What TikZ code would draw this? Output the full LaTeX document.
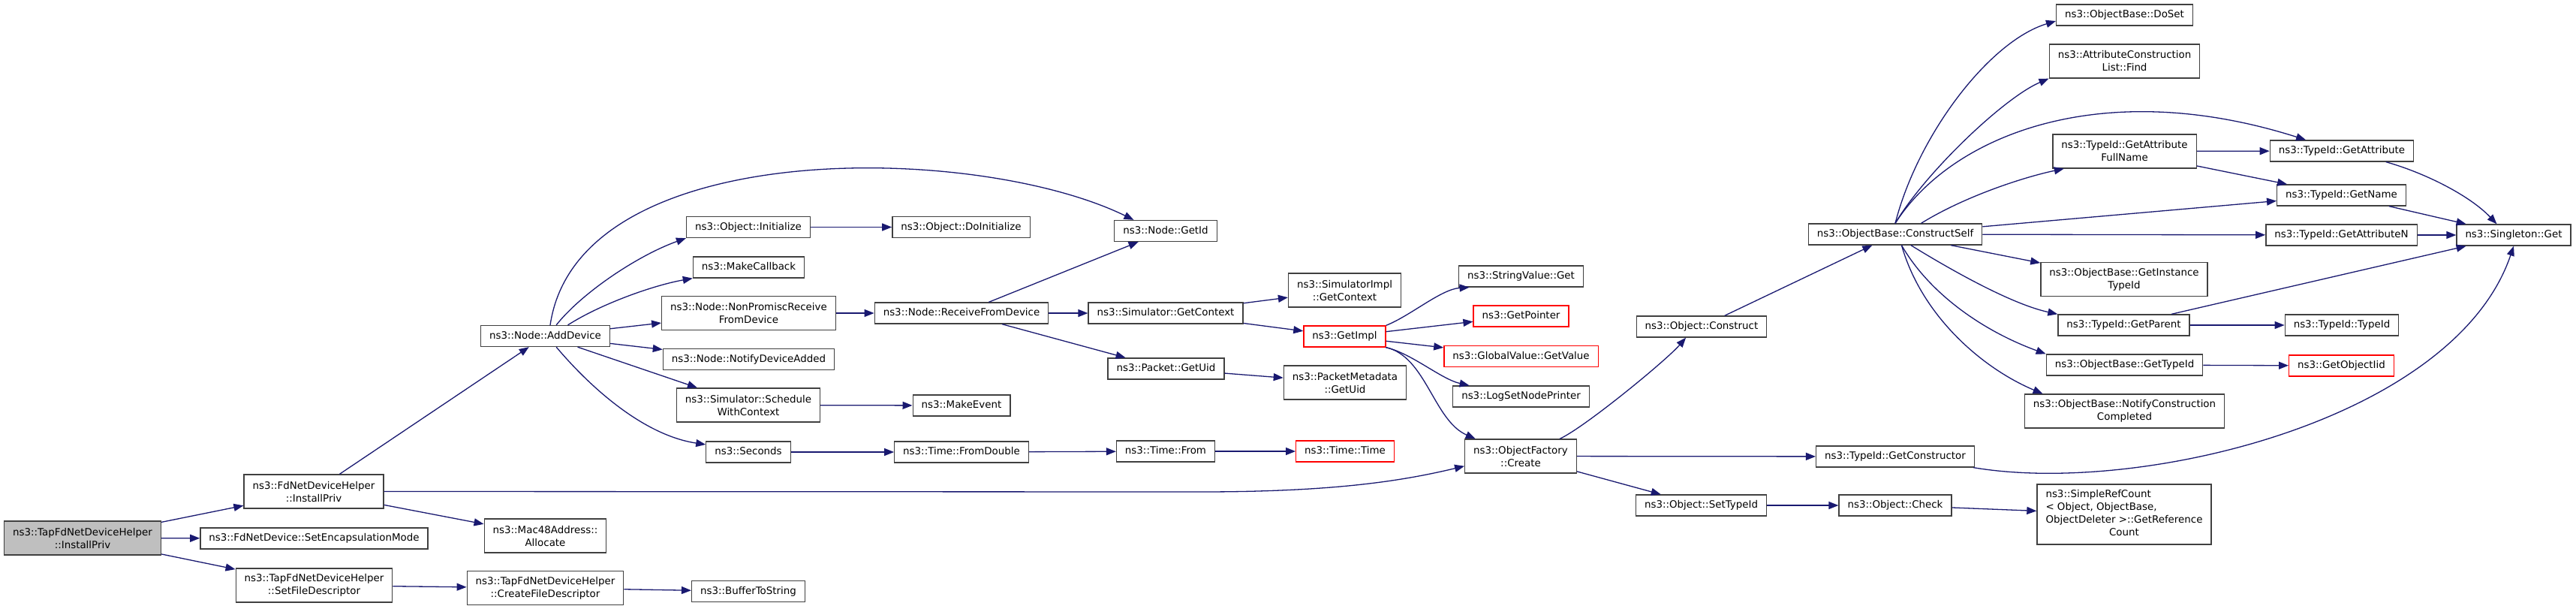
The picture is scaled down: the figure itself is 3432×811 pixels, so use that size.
\documentclass[tikz,border=0pt]{standalone}
\usepackage{fontspec}
\setmainfont{DejaVu Sans}
\usetikzlibrary{arrows.meta}
\definecolor{edgeblue}{RGB}{25,25,112}
\definecolor{boxgray}{RGB}{64,64,64}
\definecolor{rootfill}{RGB}{191,191,191}
\tikzset{
  fbox/.style={draw=boxgray, line width=1.3pt, fill=white, font=\fontsize{13.4}{17}\selectfont,
    inner xsep=11.5pt, inner ysep=7pt, text height=10.5pt, text depth=3.5pt},
  fboxm/.style={draw=boxgray, line width=1.3pt, fill=white, font=\fontsize{13.4}{17}\selectfont,
    inner xsep=11.5pt, inner ysep=0pt, minimum height=45pt, align=center},
  ext/.style={draw=red},
  root/.style={fill=rootfill},
  call/.style={draw=edgeblue, line width=1.3pt, -{Triangle[length=13pt,width=10pt]}}
}
\begin{document}
\begin{tikzpicture}[x=1pt,y=-1pt]
\useasboundingbox (0,0) rectangle (3432,811);
            \node[fboxm, root] (tapinst) at (110,716.5) {ns3::TapFdNetDeviceHelper\\::InstallPriv};
            \node[fboxm] (fdinst) at (418,654.5) {ns3::FdNetDeviceHelper\\::InstallPriv};
            \node[fbox] (setenc) at (418.5,717) {ns3::FdNetDevice::SetEncapsulationMode};
            \node[fboxm] (setfd) at (418.5,779.5) {ns3::TapFdNetDeviceHelper\\::SetFileDescriptor};
            \node[fbox] (adddev) at (726.5,447.5) {ns3::Node::AddDevice};
            \node[fboxm] (mac48) at (726.5,713.5) {ns3::Mac48Address::\\Allocate};
            \node[fboxm] (createfd) at (726.5,783) {ns3::TapFdNetDeviceHelper\\::CreateFileDescriptor};
            \node[fbox] (objinit) at (997,302.5) {ns3::Object::Initialize};
            \node[fbox] (makecb) at (997.5,356) {ns3::MakeCallback};
            \node[fboxm] (nonprom) at (997.5,417) {ns3::Node::NonPromiscReceive\\FromDevice};
            \node[fbox] (notify) at (997.5,478.5) {ns3::Node::NotifyDeviceAdded};
            \node[fboxm] (sched) at (997,539.5) {ns3::Simulator::Schedule\\WithContext};
            \node[fbox] (seconds) at (997,602) {ns3::Seconds};
            \node[fbox] (buffer) at (997,787.5) {ns3::BufferToString};
            \node[fbox] (doinit) at (1280.5,302.5) {ns3::Object::DoInitialize};
            \node[fbox] (recv) at (1281,417) {ns3::Node::ReceiveFromDevice};
            \node[fbox] (makeev) at (1281,540) {ns3::MakeEvent};
            \node[fbox] (fromdbl) at (1281,602) {ns3::Time::FromDouble};
            \node[fbox] (nodeid) at (1553,307.5) {ns3::Node::GetId};
            \node[fbox] (simctx) at (1553,417) {ns3::Simulator::GetContext};
            \node[fbox] (pktuid) at (1553.5,491) {ns3::Packet::GetUid};
            \node[fbox] (timefrom) at (1553,601) {ns3::Time::From};
            \node[fboxm] (implctx) at (1791.5,386.5) {ns3::SimulatorImpl\\::GetContext};
            \node[fbox, ext] (getimpl) at (1791.5,448) {ns3::GetImpl};
            \node[fboxm] (metauid) at (1792,509.5) {ns3::PacketMetadata\\::GetUid};
            \node[fbox, ext] (timetime) at (1792,601) {ns3::Time::Time};
            \node[fbox] (strget) at (2026.5,368) {ns3::StringValue::Get};
            \node[fbox, ext] (getptr) at (2026.5,421) {ns3::GetPointer};
            \node[fbox, ext] (glbval) at (2026.5,474.5) {ns3::GlobalValue::GetValue};
            \node[fbox] (logset) at (2026.5,528) {ns3::LogSetNodePrinter};
            \node[fboxm] (create) at (2026,607.5) {ns3::ObjectFactory\\::Create};
            \node[fbox] (construct) at (2267,435) {ns3::Object::Construct};
            \node[fbox] (settid) at (2266.5,673) {ns3::Object::SetTypeId};
            \node[fbox] (cself) at (2525,312) {ns3::ObjectBase::ConstructSelf};
            \node[fbox] (getctor) at (2525,608) {ns3::TypeId::GetConstructor};
            \node[fbox] (check) at (2525,673) {ns3::Object::Check};
            \node[fbox] (doset) at (2830.5,20) {ns3::ObjectBase::DoSet};
            \node[fboxm] (acfind) at (2830.5,81.5) {ns3::AttributeConstruction\\List::Find};
            \node[fboxm] (fullname) at (2830.5,201.5) {ns3::TypeId::GetAttribute\\FullName};
            \node[fboxm] (insttid) at (2830,372) {ns3::ObjectBase::GetInstance\\TypeId};
            \node[fbox] (parent) at (2829.5,433) {ns3::TypeId::GetParent};
            \node[fbox] (obtid) at (2830.5,486) {ns3::ObjectBase::GetTypeId};
            \node[fboxm] (notifcc) at (2830.5,547.5) {ns3::ObjectBase::NotifyConstruction\\Completed};
            \node[fboxm, minimum height=80pt] (refcount) at (2830,685) {\begin{tabular}{@{}l@{}}ns3::SimpleRefCount\\< Object, ObjectBase,\\ObjectDeleter >::GetReference\\\multicolumn{1}{@{}c@{}}{Count}\end{tabular}};
            \node[fbox] (getattr) at (3120,201) {ns3::TypeId::GetAttribute};
            \node[fbox] (getname) at (3119.5,260) {ns3::TypeId::GetName};
            \node[fbox] (getattrn) at (3119.5,313) {ns3::TypeId::GetAttributeN};
            \node[fbox] (tidtid) at (3120,433) {ns3::TypeId::TypeId};
            \node[fbox, ext] (objiid) at (3119.5,487) {ns3::GetObjectIid};
            \node[fbox] (singleton) at (3349,313) {ns3::Singleton::Get};

            \draw[call] (tapinst) -- (fdinst);
            \draw[call] (tapinst) -- (setenc);
            \draw[call] (tapinst) -- (setfd);
            \draw[call] (fdinst) -- (adddev);
            \draw[call] (fdinst) -- (mac48);
            \draw[call] (fdinst.east) -- (1600,655) .. controls (1780,655) and (1870,640) .. (create.190);
            \draw[call] (setfd) -- (createfd);
            \draw[call] (createfd) -- (buffer);
            \draw[call] (adddev.66) .. controls (770,180) and (1300,190) .. (nodeid.161);
            \draw[call] (adddev.45) .. controls (775,390) and (850,340) .. (objinit.south west);
            \draw[call] (adddev.26) .. controls (800,405) and (870,380) .. (makecb.south west);
            \draw[call] (adddev) -- (nonprom);
            \draw[call] (adddev) -- (notify);
            \draw[call] (adddev) -- (sched);
            \draw[call] (adddev.-45) .. controls (790,520) and (860,580) .. (seconds.170);
            \draw[call] (objinit) -- (doinit);
            \draw[call] (nonprom) -- (recv);
            \draw[call] (sched) -- (makeev);
            \draw[call] (seconds) -- (fromdbl);
            \draw[call] (fromdbl) -- (timefrom);
            \draw[call] (timefrom) -- (timetime);
            \draw[call] (recv) -- (nodeid);
            \draw[call] (recv) -- (simctx);
            \draw[call] (recv) -- (pktuid);
            \draw[call] (simctx) -- (implctx);
            \draw[call] (simctx) -- (getimpl);
            \draw[call] (pktuid) -- (metauid);
            \draw[call] (getimpl.north east) .. controls (1880,420) and (1920,385) .. (strget.192);
            \draw[call] (getimpl) -- (getptr);
            \draw[call] (getimpl) -- (glbval);
            \draw[call] (getimpl.-15) .. controls (1880,470) and (1920,505) .. (logset.168);
            \draw[call] (getimpl.south east) .. controls (1900,475) and (1910,560) .. (create.159);
            \draw[call] (create.24) .. controls (2110,570) and (2220,480) .. (construct.215);
            \draw[call] (create) -- (getctor);
            \draw[call] (create) -- (settid);
            \draw[call] (construct) -- (cself);
            \draw[call] (settid) -- (check);
            \draw[call] (check) -- (refcount);
            \draw[call] (getctor.-8) .. controls (2850,660) and (3270,560) .. (singleton.south);
            \draw[call] (cself.north) .. controls (2555,180) and (2650,55) .. (doset.185);
            \draw[call] (cself.north) .. controls (2565,230) and (2670,130) .. (acfind.south west);
            \draw[call] (cself.north) .. controls (2600,180) and (2800,100) .. (getattr.163);
            \draw[call] (cself.23) .. controls (2620,260) and (2700,235) .. (fullname.196);
            \draw[call] (cself) -- (getname);
            \draw[call] (cself) -- (getattrn);
            \draw[call] (cself) -- (insttid);
            \draw[call] (cself.-35) .. controls (2600,360) and (2680,405) .. (parent.north west);
            \draw[call] (cself.-60) .. controls (2570,390) and (2640,440) .. (obtid.north west);
            \draw[call] (cself.-60) .. controls (2560,420) and (2640,490) .. (notifcc.168);
            \draw[call] (fullname) -- (getattr);
            \draw[call] (fullname) -- (getname);
            \draw[call] (getattr.-14) .. controls (3230,230) and (3290,260) .. (singleton.147);
            \draw[call] (getname) -- (singleton);
            \draw[call] (getattrn) -- (singleton);
            \draw[call] (parent) -- (singleton);
            \draw[call] (parent) -- (tidtid);
            \draw[call] (obtid) -- (objiid);
        \end{tikzpicture}
\end{document}
